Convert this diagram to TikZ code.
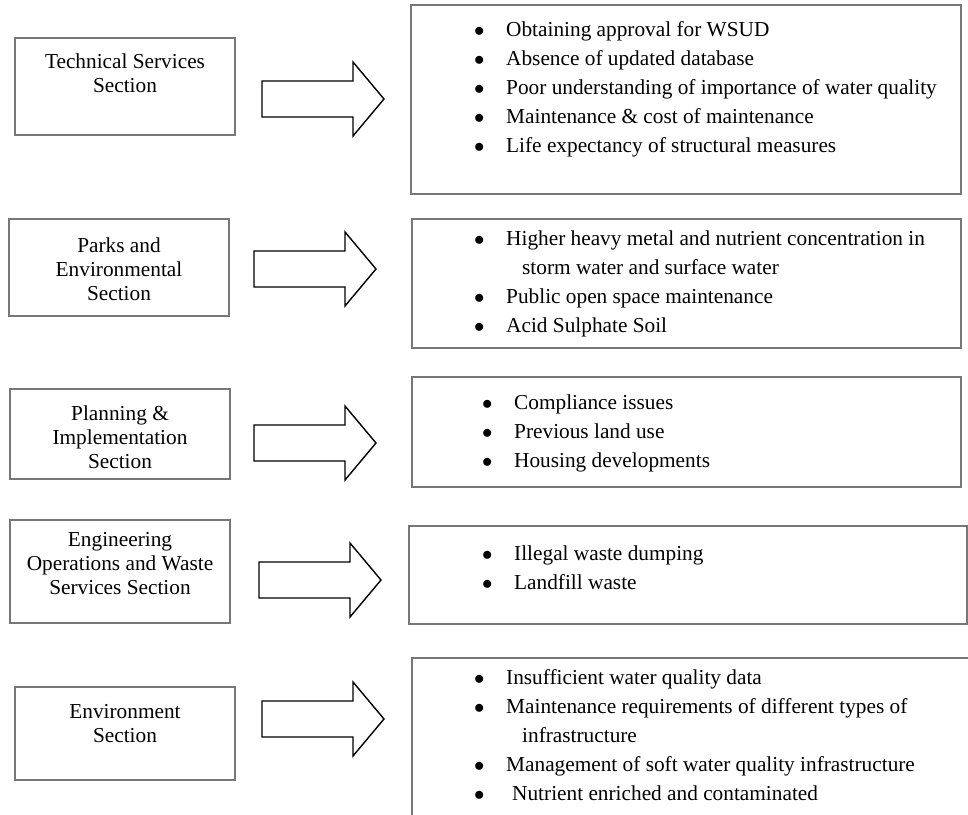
\documentclass[tikz,border=0pt]{standalone}
\usepackage{fontspec}
\setmainfont{Liberation Serif}
\usetikzlibrary{positioning}
\definecolor{boxgray}{HTML}{777777}
\tikzstyle{secbox} = [draw=boxgray, line width=2pt, inner sep=0pt, minimum width=220pt]
\tikzstyle{issuebox} = [draw=boxgray, line width=2pt, inner sep=0pt]
\tikzstyle{sectext} = [anchor=north, align=center, inner sep=0pt, font=\fontsize{21.3}{24}\selectfont]
\tikzstyle{itemlist} = [anchor=north west, align=left, inner sep=0pt, font=\fontsize{21.3}{29}\selectfont]
\tikzstyle{blockarr} = [draw=black, fill=white, line width=1.4pt, line join=miter]
\newcommand{\bl}[1]{\makebox[32pt][l]{$\bullet$}#1}
\newcommand{\cont}[1]{\hspace*{48pt}#1}
% block arrow: left end of shaft at (#1,#2)
\newcommand{\blockarrow}[2]{\draw[blockarr] (#1,#2) ++(0,-18) -- ++(91,0) -- ++(0,-19) -- ++(31,37) -- ++(-31,37) -- ++(0,-19) -- ++(-91,0) -- cycle;}

\begin{document}
\begin{tikzpicture}[x=1pt, y=-1pt]
\useasboundingbox (0,0) rectangle (968,814);

% sections
\node[secbox, minimum height=97pt] (tech) at (125,86.5) {};
\node[sectext] (techtxt) at (125,53.5) {Technical Services\\Section};
\node[secbox, minimum height=97pt] (parks) at (119,267.5) {};
\node[sectext] (parkstxt) at (119,237.5) {Parks and\\Environmental\\Section};
\node[secbox, minimum height=90pt] (plan) at (120,434) {};
\node[sectext] (plantxt) at (120,405.5) {Planning \&\\Implementation\\Section};
\node[secbox, minimum height=103pt] (eng) at (120,571.5) {};
\node[sectext] (engtxt) at (120,532.5) {Engineering\\Operations and Waste\\Services Section};
\node[secbox, minimum height=93pt] (env) at (125,733.5) {};
\node[sectext] (envtxt) at (125,704.5) {Environment\\Section};

% arrows
\blockarrow{262}{99}
\blockarrow{254}{269}
\blockarrow{254}{443}
\blockarrow{259}{580}
\blockarrow{262}{719}

% issues
\node[issuebox, minimum width=550pt, minimum height=189pt] (techiss) at (686,99.5) {};
\node[itemlist] (techlist) at (474,21.5) {\bl{Obtaining approval for WSUD}\\
  \bl{Absence of updated database}\\
  \bl{Poor understanding of importance of water quality}\\
  \bl{Maintenance \& cost of maintenance}\\
  \bl{Life expectancy of structural measures}};
\node[issuebox, minimum width=549pt, minimum height=129pt] (parksiss) at (686.5,283.5) {};
\node[itemlist] (parkslist) at (474,230.5) {\bl{Higher heavy metal and nutrient concentration in}\\
  \cont{storm water and surface water}\\
  \bl{Public open space maintenance}\\
  \bl{Acid Sulphate Soil}};
\node[issuebox, minimum width=549pt, minimum height=110pt] (planiss) at (686.5,432) {};
\node[itemlist] (planlist) at (482,394.5) {\bl{Compliance issues}\\
  \bl{Previous land use}\\
  \bl{Housing developments}};
\node[issuebox, minimum width=558pt, minimum height=98pt] (engiss) at (688,575) {};
\node[itemlist] (englist) at (482,545.5) {\bl{Illegal waste dumping}\\
  \bl{Landfill waste}};
\begin{scope}
\clip (0,0) rectangle (968,814);
\node[issuebox, minimum width=578pt, minimum height=182pt] (enviss) at (701,749) {};
\end{scope}
\node[itemlist] (envlist) at (474,669.5) {\bl{Insufficient water quality data}\\
  \bl{Maintenance requirements of different types of}\\
  \cont{infrastructure}\\
  \bl{Management of soft water quality infrastructure}\\
  \bl{\hspace{6pt}Nutrient enriched and contaminated}};
\end{tikzpicture}
\end{document}
